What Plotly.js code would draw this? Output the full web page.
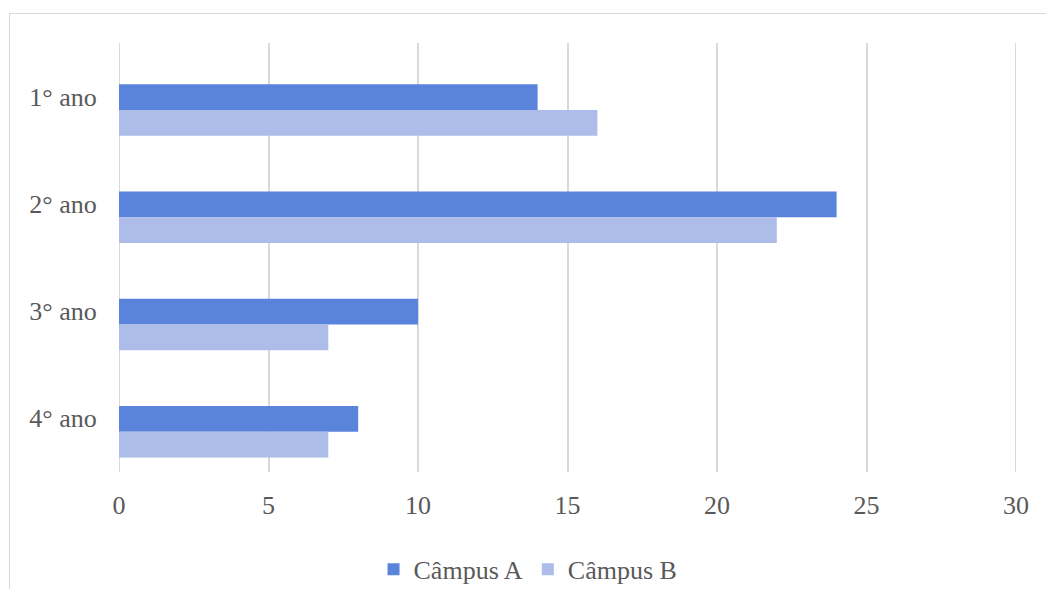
<!DOCTYPE html>
<html>
<head>
<meta charset="utf-8">
<script src="https://cdn.plot.ly/plotly-3.0.1.min.js"></script>
<style>
html,body{margin:0;padding:0;background:#fff;}
#frame{position:absolute;left:9px;top:13px;width:1100px;height:700px;border-left:1.5px solid #d9d9d9;border-top:1.5px solid #d9d9d9;box-sizing:border-box;}
#chart{position:absolute;left:0;top:0;width:1046px;height:589px;}
</style>
</head>
<body>
<div id="frame"></div>
<div id="chart"></div>
<script>
const categories = ["1° ano", "2° ano", "3° ano", "4° ano"];
const campusA = [14, 24, 10, 8];
const campusB = [16, 22, 7, 7];
const xTicks = [0, 5, 10, 15, 20, 25, 30];

const font = {family: "Liberation Serif, Times New Roman, serif", size: 26, color: "#595959"};

const traces = [
  {type: "bar", orientation: "h", name: "Câmpus A", y: categories, x: campusA,
   width: 0.24, offset: -0.115, marker: {color: "#5A83DB"}},
  {type: "bar", orientation: "h", name: "Câmpus B", y: categories, x: campusB,
   width: 0.24, offset: 0.125, marker: {color: "#ADBCE8"}}
];

const edgeLines = [xTicks[0], xTicks[xTicks.length - 1]].map(v => ({
  type: "line", xref: "x", yref: "paper", x0: v, x1: v, y0: 0, y1: 1,
  line: {color: "#d9d9d9", width: 2}, layer: "below"
}));

const layout = {
  width: 1046, height: 589,
  margin: {l: 119, r: 30, t: 43, b: 117, autoexpand: false},
  paper_bgcolor: "rgba(0,0,0,0)",
  plot_bgcolor: "rgba(0,0,0,0)",
  barmode: "overlay",
  font: font,
  showlegend: true,
  legend: {orientation: "h", x: 0.456, xanchor: "center", y: -0.227, yanchor: "middle",
           font: font, itemclick: false, traceorder: "normal"},
  shapes: edgeLines,
  xaxis: {range: [0, 30], tickvals: xTicks, showgrid: true, gridcolor: "#d9d9d9", gridwidth: 2,
          zeroline: false, showline: false, ticks: "outside", ticklen: 10, tickcolor: "rgba(0,0,0,0)",
          tickfont: font, fixedrange: true, automargin: false},
  yaxis: {autorange: "reversed", type: "category", showgrid: false, zeroline: false, showline: false,
          ticks: "outside", ticklen: 16, tickcolor: "rgba(0,0,0,0)", tickfont: font, fixedrange: true,
          automargin: false}
};

Plotly.newPlot("chart", traces, layout, {displayModeBar: false, staticPlot: true});
</script>
</body>
</html>
